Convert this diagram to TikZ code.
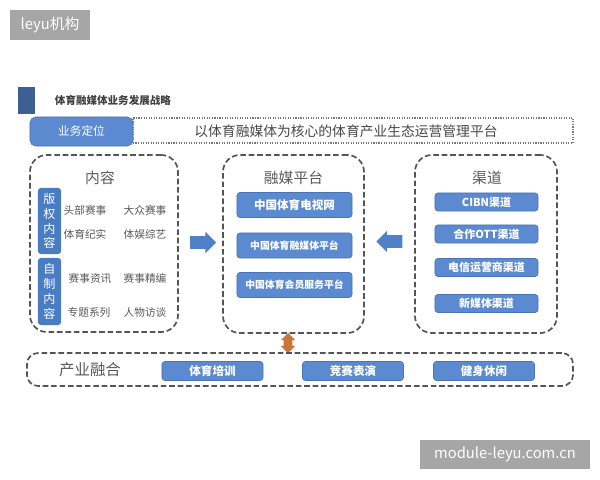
\documentclass[tikz,border=0pt]{standalone}
\usepackage{fontspec}
\setmainfont{Noto Sans CJK SC}
\usetikzlibrary{shapes.arrows, positioning}

\definecolor{btnblue}{HTML}{5B8AD0}
\definecolor{btnedge}{HTML}{4A74B4}
\definecolor{barblue}{HTML}{4A7CC4}
\definecolor{darkmark}{HTML}{3D5F94}
\definecolor{txtgray}{HTML}{595959}
\definecolor{edgegray}{HTML}{555555}
\definecolor{arrowblue}{HTML}{4F81C6}
\definecolor{linkorange}{HTML}{C8743A}
\definecolor{wmgray}{HTML}{A6A6A6}

\begin{document}
\begin{tikzpicture}[
    x=0.025cm, y=-0.025cm,
    % Styles
    group box/.style={rectangle, draw=edgegray, dash pattern=on 4pt off 2pt, line width=1.2pt, rounded corners=12pt, minimum width=3.55cm, minimum height=4.45cm},
    group label/.style={text=txtgray, font=\fontsize{10.5}{12}\selectfont},
    blue btn/.style={rectangle, draw=btnedge, fill=btnblue, text=white, align=center, rounded corners=2pt, inner sep=1pt, font=\fontsize{7.8}{9}\selectfont\bfseries},
    side bar/.style={rectangle, fill=barblue, text=white, align=center, rounded corners=2pt, inner sep=0pt, minimum width=0.575cm, font=\fontsize{8.6}{10.6}\selectfont},
    item/.style={text=txtgray, font=\fontsize{7.6}{9}\selectfont},
    block arrow/.style={single arrow, fill=arrowblue, inner xsep=0pt, inner ysep=0.15cm, minimum height=0.65cm, single arrow head extend=0.11cm},
    watermark/.style={rectangle, fill=wmgray, text=white, inner sep=0pt, font=\fontsize{10.5}{12}\selectfont}
]
\useasboundingbox (0,0) rectangle (600,480);

% Watermarks
\node[watermark, minimum width=2cm, minimum height=0.75cm] (wmtop) at (50,25) {leyu机构};
\node[watermark, minimum width=4.25cm, minimum height=0.725cm] (wmbottom) at (505,454.5) {module-leyu.com.cn};

% Title
\node[fill=darkmark, minimum width=0.425cm, minimum height=0.675cm, inner sep=0pt] (mark) at (26.5,100.5) {};
\node[anchor=west, text=black!75, font=\fontsize{7.5}{9}\selectfont\bfseries] (title) at (50,100) {体育融媒体业务发展战略};

% Positioning row
\node[draw=edgegray!80, densely dotted, line width=0.8pt, minimum width=11cm, minimum height=0.625cm] (slogan) at (353,130.5) {};
\node[text=txtgray!80!black, font=\fontsize{9.8}{11}\selectfont] (slogantext) at (346,131) {以体育融媒体为核心的体育产业生态运营管理平台};
\node[blue btn, minimum width=2.575cm, minimum height=0.725cm, rounded corners=4pt, font=\fontsize{8.3}{10}\selectfont] (position) at (81.5,131.5) {业务定位};

% Content group
\node[group box, minimum width=3.7cm, minimum height=4.425cm] (content) at (104,243.5) {};
\node[group label] (contentlabel) at (100,178) {内容};
\node[side bar, minimum height=1.65cm] (copyright) at (49.5,221) {版\\权\\内\\容};
\node[side bar, minimum height=1.675cm] (selfmade) at (49.5,291.5) {自\\制\\内\\容};
\node[item] (c1) at (85,210) {头部赛事};
\node[item] (c2) at (145,210) {大众赛事};
\node[item] (c3) at (85,234.5) {体育纪实};
\node[item] (c4) at (145,234.5) {体娱综艺};
\node[item] (c5) at (90,278) {赛事资讯};
\node[item] (c6) at (145,278) {赛事精编};
\node[item] (c7) at (89,312) {专题系列};
\node[item] (c8) at (145,312) {人物访谈};

% Media platform group
\node[group box, minimum width=3.525cm] (media) at (293.5,244) {};
\node[group label] (medialabel) at (293.5,178) {融媒平台};
\node[blue btn, minimum width=2.875cm, minimum height=0.625cm, font=\fontsize{8.2}{10}\selectfont\bfseries] (tv) at (294.5,205) {中国体育电视网};
\node[blue btn, minimum width=2.875cm, minimum height=0.625cm, font=\fontsize{7}{9}\selectfont\bfseries] (fusion) at (294.5,245.5) {中国体育融媒体平台};
\node[blue btn, minimum width=2.875cm, minimum height=0.625cm, font=\fontsize{7}{9}\selectfont\bfseries] (member) at (294.5,285) {中国体育会员服务平台};

% Channel group
\node[group box] (channel) at (486,244) {};
\node[group label] (channellabel) at (487,178) {渠道};
\node[blue btn, minimum width=2.575cm, minimum height=0.45cm] (cibn) at (486.5,202) {CIBN渠道};
\node[blue btn, minimum width=2.575cm, minimum height=0.45cm] (ott) at (486.5,234) {合作OTT渠道};
\node[blue btn, minimum width=2.575cm, minimum height=0.45cm] (telecom) at (486.5,267.5) {电信运营商渠道};
\node[blue btn, minimum width=2.575cm, minimum height=0.45cm] (newmedia) at (486.5,303.5) {新媒体渠道};

% Block arrows
\node[block arrow] (toright) at (200,242.5) {};
\node[block arrow, shape border rotate=180] (toleft) at (392.5,241.5) {};
\node[double arrow, fill=linkorange, inner xsep=0.1cm, inner ysep=0pt, minimum height=0.5cm, double arrow head extend=0.07cm, shape border rotate=90] (link) at (288,343) {};

% Industry group
\node[group box, minimum width=13.65cm, minimum height=0.825cm, rounded corners=8pt] (industry) at (300,369.5) {};
\node[group label, font=\fontsize{11}{12}\selectfont] (industrylabel) at (90,370) {产业融合};
\node[blue btn, minimum width=2.525cm, minimum height=0.475cm, font=\fontsize{8.2}{10}\selectfont\bfseries] (training) at (212.5,371) {体育培训};
\node[blue btn, minimum width=2.525cm, minimum height=0.475cm, font=\fontsize{8.2}{10}\selectfont\bfseries] (contest) at (353,371) {竞赛表演};
\node[blue btn, minimum width=2.525cm, minimum height=0.475cm, font=\fontsize{8.2}{10}\selectfont\bfseries] (fitness) at (484,371) {健身休闲};

\end{tikzpicture}
\end{document}
